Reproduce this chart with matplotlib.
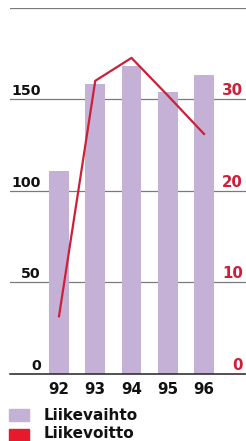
import numpy as np
import matplotlib.pyplot as plt
from matplotlib.patches import Rectangle

## data
years = ['92', '93', '94', '95', '96']
liikevaihto = [111, 158, 168, 154, 163]
liikevoitto = [6.3, 32.0, 34.5, 30.4, 26.2]
left_ticks = [0, 50, 100, 150]
right_ticks = [0, 10, 20, 30]

bar_col = '#c6b1d6'
line_col = '#cc2038'
red_col = '#e8192c'
font = 'DejaVu Sans'

fig = plt.figure(figsize=(2.46, 4.41), dpi=100)
ax = fig.add_axes([10 / 246, 1 - 374 / 441, 236 / 246, (374 - 7.5) / 441])
ax2 = ax.twinx()

x = np.arange(len(years))
ax.bar(x, liikevaihto, width=0.55, color=bar_col, zorder=2)
ax.set_xlim(-1.352, 5.159)
ax.set_ylim(0, 200)
ax2.set_ylim(0, 40)
ax2.plot(x, liikevoitto, color=line_col, lw=1.6, zorder=3)

## gridlines
for v in [50, 100, 150, 200]:
    ax.axhline(v, color='#7a7a7a', lw=0.9, zorder=1)
ax.axhline(0, color='#222222', lw=1.1, zorder=3, clip_on=False)

## tick labels above the gridlines
for v in left_ticks:
    ax.text(0.13, v + 2.2, str(v), transform=ax.get_yaxis_transform(),
            ha='right', va='baseline', fontsize=10.3, fontweight='bold',
            family=font, color='#111111')
for v in right_ticks:
    ax2.text(0.987, v + 0.44, str(v), transform=ax2.get_yaxis_transform(),
             ha='right', va='baseline', fontsize=10.8, fontweight='bold',
             family=font, color=line_col)
for i, y in enumerate(years):
    ax.text(i, -8.2, y, ha='center', va='center', fontsize=10.8,
            fontweight='bold', family=font, color='#111111', clip_on=False)

for a in (ax, ax2):
    a.axis('off')

## legend
fig.patches.append(Rectangle((9 / 246, 1 - 421 / 441), 20 / 246, 12 / 441,
                             transform=fig.transFigure, color=bar_col))
fig.patches.append(Rectangle((9 / 246, 1 - 441 / 441), 20 / 246, 12 / 441,
                             transform=fig.transFigure, color=red_col))
fig.text(44 / 246, 1 - 415 / 441, 'Liikevaihto', ha='left', va='center',
         fontsize=11, fontweight='bold', family=font, color='#111111')
fig.text(44 / 246, 1 - 434 / 441, 'Liikevoitto', ha='left', va='center',
         fontsize=11, fontweight='bold', family=font, color='#111111')

fig.savefig('out.png', dpi=100)
